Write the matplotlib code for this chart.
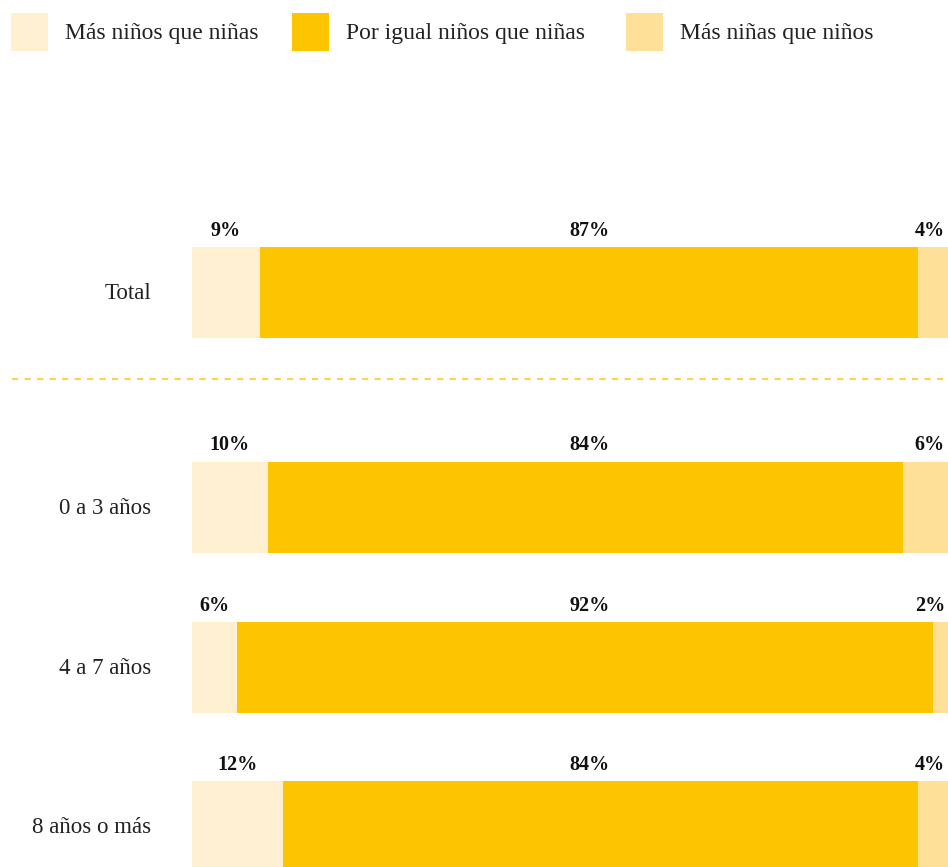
import matplotlib
matplotlib.use("Agg")
import matplotlib.pyplot as plt
from matplotlib.patches import Rectangle

categories = ["Total", "0 a 3 años", "4 a 7 años", "8 años o más"]
mas_ninos = [9, 10, 6, 12]
igual = [87, 84, 92, 84]
mas_ninas = [4, 6, 2, 4]
series_names = ["Más niños que niñas", "Por igual niños que niñas", "Más niñas que niños"]
colors = ["#FDEFCF", "#FCC500", "#FFE099"]

W, H = 948, 867
fig = plt.figure(figsize=(W / 100, H / 100), dpi=100)
plt.rcParams['font.family'] = ['Liberation Serif', 'DejaVu Serif']

# Bars axes: pixel 192 -> 0%, 948 -> 100%
x0 = 192
ax = fig.add_axes([x0 / W, 0, 1 - x0 / W, 1])
ax.set_xlim(0, 100)
ax.set_ylim(H, 0)
ax.axis("off")

row_y = [292.5, 507, 667.5, 826.5]
bar_h = 91

series = [mas_ninos, igual, mas_ninas]
n_series = len(series)
for i, y in enumerate(row_y):
    left = 0
    for k, (s, col) in enumerate(zip(series, colors)):
        v = s[i]
        ax.barh(y, v, left=left, height=bar_h, color=col, linewidth=0)
        if k == n_series - 1:
            tx, ha = 99.6, "right"
        elif k == 1:
            tx, ha = 52.6, "center"
        else:
            tx, ha = left + v / 2, "center"
        ax.text(tx, y - bar_h / 2 - 6, f"{v}%", ha=ha, va="bottom",
                fontsize=14.5, fontweight="bold", color="#111111")
        left += v

# Overlay axes in pixel coordinates for labels, legend and separator
ov = fig.add_axes([0, 0, 1, 1])
ov.set_xlim(0, W)
ov.set_ylim(H, 0)
ov.axis("off")

for cat, y in zip(categories, row_y):
    ov.text(151, y + 1, cat, ha="right", va="center", fontsize=16.5, color="#222222")

ov.plot([12, 945], [379, 379], linestyle=(0, (3, 3)), color="#FCD34D", linewidth=1.5)

leg_x = [11, 292, 626]
for lx, name, col in zip(leg_x, series_names, colors):
    ov.add_patch(Rectangle((lx, 13), 37, 38, facecolor=col, edgecolor="none"))
    ov.text(lx + 54, 34, name, ha="left", va="center", fontsize=17, color="#222222")

fig.savefig("out.png", dpi=100)
